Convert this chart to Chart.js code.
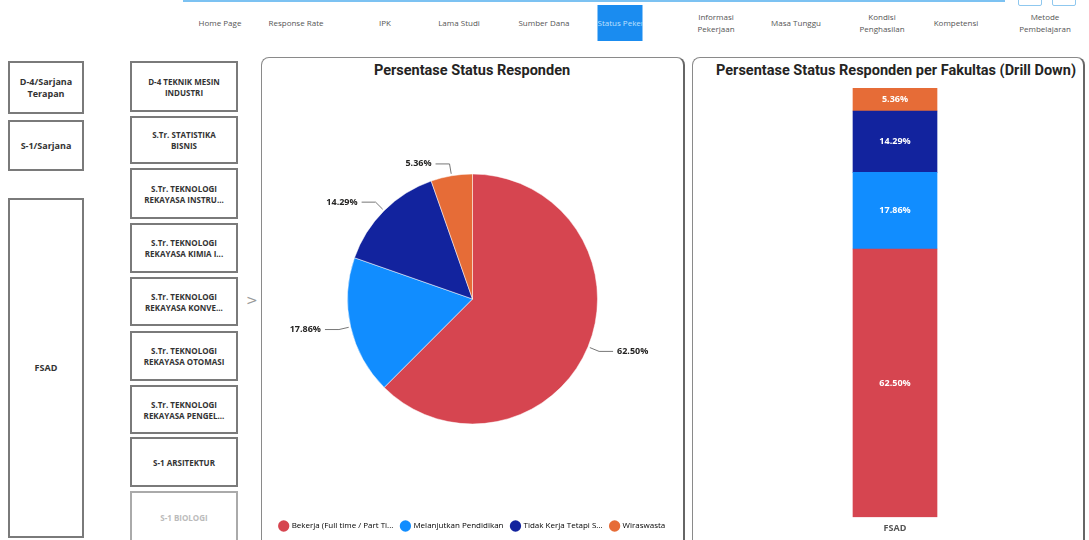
<!DOCTYPE html>
<html>
<head>
<meta charset="utf-8">
<script src="https://cdn.jsdelivr.net/npm/chart.js@4.4.1/dist/chart.umd.min.js"></script>
<style>
  body { margin:0; width:1089px; height:540px; background:#fff; position:relative; overflow:hidden; font-family:"Open Sans", sans-serif; }
  .topline { position:absolute; left:183px; top:0; width:822px; height:2px; background:#7cc2f2; }
  .tbtn { position:absolute; top:-4px; width:22px; height:8px; border:1px solid #8fc8ef; border-radius:2px; }
  .nav { position:absolute; font-size:8px; color:#555; text-align:center; line-height:12px; transform:translate(-50%,-50%); white-space:nowrap; }
  .nav.active { background:#1a8cf0; color:#bfe0ff; width:45px; height:36px; line-height:36px; overflow:hidden; }
  .slicer { position:absolute; border:2px solid #7a7a7a; box-sizing:border-box; display:flex; align-items:center; justify-content:center; text-align:center; font-weight:bold; font-size:8px; color:#333; line-height:11px; }
  .slicer.big { font-size:9px; line-height:12px; }
  .slicer.dim { color:#bbb; border-color:#aaa; }
  .panel { position:absolute; border:1px solid #8a8a8a; border-right:2px solid #666; border-radius:8px; box-sizing:border-box; }
  .title { position:absolute; font-family:"Liberation Sans Narrow","Roboto",sans-serif; font-weight:bold; font-size:14.5px; color:#252423; white-space:nowrap; transform:translateX(-50%); }
  .arrow { position:absolute; left:246px; top:292px; font-size:14px; color:#999; font-family:"DejaVu Sans",sans-serif; }
  canvas { position:absolute; }
</style>
</head>
<body>
<div class="topline"></div>
<div class="tbtn" style="left:1018px"></div>
<div class="tbtn" style="left:1052px"></div>

<div id="nav"></div>

<div class="slicer big" style="left:8px;top:61px;width:76px;height:53px">D-4/Sarjana<br>Terapan</div>
<div class="slicer big" style="left:8px;top:120px;width:76px;height:51px">S-1/Sarjana</div>
<div class="slicer big" style="left:8px;top:198px;width:76px;height:340px">FSAD</div>
<div id="prodi"></div>
<div class="arrow">&gt;</div>

<div class="panel" style="left:261px;top:57px;width:424px;height:490px"></div>
<div class="title" style="left:472px;top:62px">Persentase Status Responden</div>
<canvas id="pieChart" style="left:262px;top:84px;width:421px;height:456px" width="421" height="456"></canvas>

<div class="panel" style="left:692px;top:57px;width:393px;height:490px"></div>
<div class="title" style="left:896px;top:62px">Persentase Status Responden per Fakultas (Drill Down)</div>
<canvas id="barChart" style="left:693px;top:84px;width:390px;height:456px" width="390" height="456"></canvas>

<script>
// ---- data ----
const statusLabels = ['Bekerja (Full time / Part Time)', 'Melanjutkan Pendidikan', 'Tidak Kerja Tetapi Sedang Mencari Kerja', 'Wiraswasta'];
const legendShort = ['Bekerja (Full time / Part Ti...', 'Melanjutkan Pendidikan', 'Tidak Kerja Tetapi S...', 'Wiraswasta'];
const statusPersen = [62.50, 17.86, 14.29, 5.36];
const statusColors = ['#D64550', '#118DFF', '#12239E', '#E66C37'];
const fakultas = ['FSAD'];

// menu atas + slicer prodi
const navItems = [
  ['Home Page', 220], ['Response Rate', 296], ['IPK', 385], ['Lama Studi', 459], ['Sumber Dana', 544],
  ['Status Pekerjaan', 620], ['Informasi<br>Pekerjaan', 716], ['Masa Tunggu', 796],
  ['Kondisi<br>Penghasilan', 882], ['Kompetensi', 956], ['Metode<br>Pembelajaran', 1045]
];
const prodiList = [
  ['D-4 TEKNIK MESIN<br>INDUSTRI', 61, 51], ['S.Tr. STATISTIKA<br>BISNIS', 116, 48],
  ['S.Tr. TEKNOLOGI<br>REKAYASA INSTRU...', 168, 51], ['S.Tr. TEKNOLOGI<br>REKAYASA KIMIA I...', 223, 50],
  ['S.Tr. TEKNOLOGI<br>REKAYASA KONVE...', 277, 49], ['S.Tr. TEKNOLOGI<br>REKAYASA OTOMASI', 331, 50],
  ['S.Tr. TEKNOLOGI<br>REKAYASA PENGEL...', 385, 49], ['S-1 ARSITEKTUR', 437, 50], ['S-1 BIOLOGI', 491, 52]
];

let navHtml = '';
navItems.forEach(n => {
  const active = n[0] === 'Status Pekerjaan' ? ' active' : '';
  navHtml += `<div class="nav${active}" style="left:${n[1]}px;top:23px">${n[0]}</div>`;
});
document.getElementById('nav').innerHTML = navHtml;

let prodiHtml = '';
prodiList.forEach((p, i) => {
  const dim = i === prodiList.length - 1 ? ' dim' : '';
  prodiHtml += `<div class="slicer${dim}" style="left:130px;top:${p[1]}px;width:108px;height:${p[2]}px">${p[0]}</div>`;
});
document.getElementById('prodi').innerHTML = prodiHtml;

// label persen di luar pie dengan garis penunjuk
const pieLabelPlugin = {
  id: 'pieLabels',
  afterDatasetsDraw(chart) {
    const ctx = chart.ctx;
    const meta = chart.getDatasetMeta(0);
    ctx.save();
    ctx.font = 'bold 9px "Open Sans", sans-serif';
    ctx.textBaseline = 'middle';
    meta.data.forEach((arc, i) => {
      const p = arc.getProps(['x', 'y', 'startAngle', 'endAngle', 'outerRadius']);
      const mid = (p.startAngle + p.endAngle) / 2;
      const cos = Math.cos(mid), sin = Math.sin(mid);
      const x1 = p.x + cos * (p.outerRadius + 2), y1 = p.y + sin * (p.outerRadius + 2);
      const x2 = p.x + cos * (p.outerRadius + 12), y2 = p.y + sin * (p.outerRadius + 12);
      const right = cos >= 0;
      const x3 = x2 + (right ? 14 : -14);
      ctx.strokeStyle = '#777';
      ctx.lineWidth = 1;
      ctx.beginPath();
      ctx.moveTo(x1, y1); ctx.lineTo(x2, y2); ctx.lineTo(x3, y2);
      ctx.stroke();
      ctx.fillStyle = '#252423';
      ctx.textAlign = right ? 'left' : 'right';
      ctx.fillText(statusPersen[i].toFixed(2) + '%', x3 + (right ? 4 : -4), y2);
    });
    ctx.restore();
  }
};

new Chart(document.getElementById('pieChart'), {
  type: 'pie',
  data: {
    labels: statusLabels,
    datasets: [{
      data: statusPersen,
      backgroundColor: statusColors,
      borderColor: '#fff',
      borderWidth: 0.5,
      radius: 125
    }]
  },
  options: {
    responsive: false,
    animation: false,
    layout: { padding: 0 },
    plugins: {
      tooltip: { enabled: false },
      legend: {
        position: 'bottom',
        labels: {
          usePointStyle: true,
          pointStyle: 'circle',
          boxWidth: 8,
          boxHeight: 8,
          padding: 8,
          color: '#777',
          font: { size: 8, family: '"Open Sans", sans-serif' },
          generateLabels(chart) {
            return legendShort.map((l, i) => ({
              text: l, fillStyle: statusColors[i], strokeStyle: statusColors[i],
              lineWidth: 0, pointStyle: 'circle', index: i, hidden: false
            }));
          }
        }
      }
    }
  },
  plugins: [pieLabelPlugin]
});

// label di dalam batang
const barLabelPlugin = {
  id: 'barLabels',
  afterDatasetsDraw(chart) {
    const ctx = chart.ctx;
    ctx.save();
    ctx.font = 'bold 9px "Open Sans", sans-serif';
    ctx.fillStyle = '#fff';
    ctx.textAlign = 'center';
    ctx.textBaseline = 'middle';
    chart.data.datasets.forEach((ds, di) => {
      chart.getDatasetMeta(di).data.forEach((bar, i) => {
        const p = bar.getProps(['x', 'y', 'base']);
        ctx.fillText(ds.data[i].toFixed(2) + '%', p.x, (p.y + p.base) / 2);
      });
    });
    ctx.restore();
  }
};

new Chart(document.getElementById('barChart'), {
  type: 'bar',
  data: {
    labels: fakultas,
    datasets: statusLabels.map((l, i) => ({
      label: l,
      data: [statusPersen[i]],
      backgroundColor: statusColors[i],
      barThickness: 84
    }))
  },
  options: {
    responsive: false,
    animation: false,
    layout: { padding: { top: 4, left: 14, bottom: 0 } },
    plugins: { legend: { display: false }, tooltip: { enabled: false } },
    scales: {
      x: {
        stacked: true,
        grid: { display: false, drawTicks: false },
        border: { display: false },
        ticks: { color: '#555', padding: 6, font: { size: 9, weight: 'bold', family: '"Open Sans", sans-serif' } }
      },
      y: {
        stacked: true,
        display: false,
        min: 0,
        max: 100.01
      }
    }
  },
  plugins: [barLabelPlugin]
});
</script>
</body>
</html>
